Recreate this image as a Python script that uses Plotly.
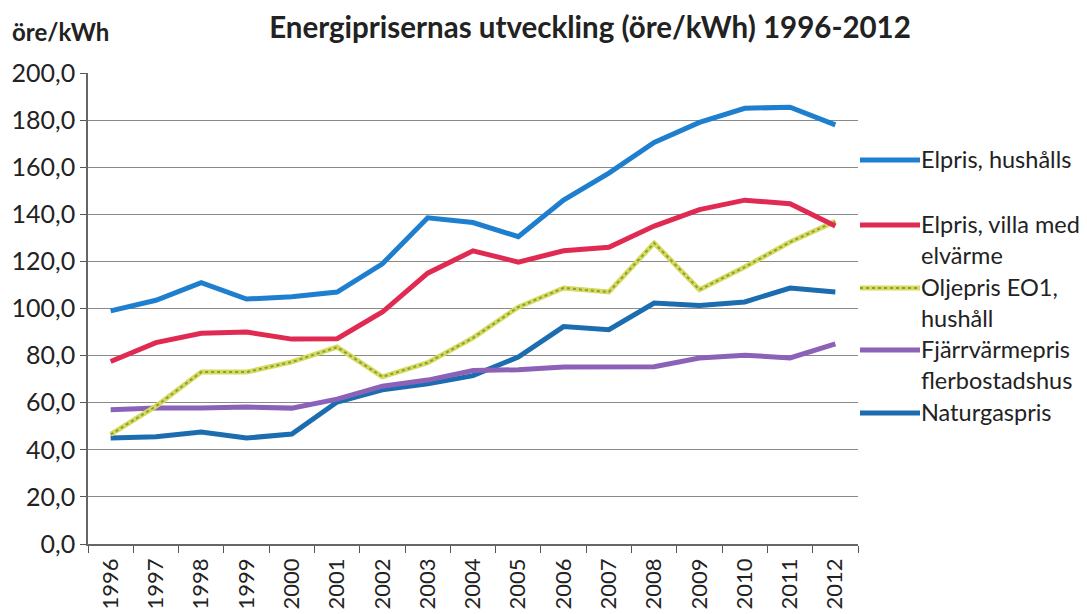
import plotly.graph_objects as go

years = [str(y) for y in range(1996, 2013)]

elpris_hushall = [99, 103.5, 111, 104, 105, 107, 119, 138.5, 136.5, 130.5, 146, 157.5, 170.5, 179, 185, 185.5, 178]
elpris_villa = [77.5, 85.5, 89.5, 90, 87, 87.2, 98.5, 115, 124.5, 119.7, 124.5, 126, 135, 142, 146, 144.5, 135]
oljepris = [46.5, 58.5, 73, 73, 77.3, 83.6, 71, 77, 87.5, 100.6, 108.7, 107, 127.8, 108, 117.6, 128.2, 137]
fjarrvarme = [57, 57.7, 57.7, 58.2, 57.7, 61.5, 67, 69.6, 73.7, 74, 75.2, 75.2, 75.3, 79, 80.2, 79, 85]
naturgas = [45, 45.5, 47.6, 45, 46.7, 60.3, 65.5, 68, 71.5, 79.4, 92.3, 91, 102.3, 101.3, 102.8, 108.7, 107]

series_names = ["Elpris, hushålls", "Elpris, villa med elvärme", "Oljepris EO1, hushåll",
                "Fjärrvärmepris flerbostadshus", "Naturgaspris"]

# legend text as it wraps (and as far as it shows) in the picture
legend_lines = [["Elpris, hushålls"], ["Elpris, villa med", "elvärme"], ["Oljepris EO1,", "hushåll"],
                ["Fjärrvärmepris", "flerbostadshus"], ["Naturgaspris"]]

FONT = "Lato"
TXT = "#222222"

c_blue = "#1f7fcf"
c_red = "#e02a52"
c_yel = "#d4dc5a"
c_olive = "#8c9a48"
c_purple = "#8b62b8"
c_gas = "#1b6db0"

fig = go.Figure()

fig.add_trace(go.Scatter(x=years, y=naturgas, mode="lines", name=series_names[4],
                         line=dict(color=c_gas, width=5)))
fig.add_trace(go.Scatter(x=years, y=fjarrvarme, mode="lines", name=series_names[3],
                         line=dict(color=c_purple, width=5)))
fig.add_trace(go.Scatter(x=years, y=oljepris, mode="lines", name=series_names[2],
                         line=dict(color=c_yel, width=5)))
fig.add_trace(go.Scatter(x=years, y=oljepris, mode="lines", name=series_names[2], showlegend=False,
                         line=dict(color=c_olive, width=2, dash="dot")))
fig.add_trace(go.Scatter(x=years, y=elpris_villa, mode="lines", name=series_names[1],
                         line=dict(color=c_red, width=5)))
fig.add_trace(go.Scatter(x=years, y=elpris_hushall, mode="lines", name=series_names[0],
                         line=dict(color=c_blue, width=5)))

# hand-made legend to the right
L, R, T, B = 88, 229, 73, 70
pw, ph = 1087 - L - R, 614 - T - B

def px_x(px):
    return (px - L) / pw

def px_y(py):
    return (614 - B - py) / ph

swatch_cols = [c_blue, c_red, c_yel, c_purple, c_gas]
swatch_y = [159, 224, 287, 349, 412]
line_gap = 31
shapes = []
annots = []
for col, yy, lines in zip(swatch_cols, swatch_y, legend_lines):
    shapes.append(dict(type="line", xref="paper", yref="paper", x0=px_x(860), x1=px_x(920),
                       y0=px_y(yy + 1), y1=px_y(yy + 1), line=dict(color=col, width=5)))
    if col == c_yel:
        shapes.append(dict(type="line", xref="paper", yref="paper", x0=px_x(860), x1=px_x(920),
                           y0=px_y(yy + 1), y1=px_y(yy + 1), line=dict(color=c_olive, width=2, dash="dot")))
    for k, t in enumerate(lines):
        annots.append(dict(text=t, xref="paper", yref="paper", x=px_x(919), y=px_y(yy + line_gap * k),
                           xanchor="left", yanchor="middle", showarrow=False,
                           font=dict(family=FONT, size=23.5, color=TXT)))

annots.append(dict(text="<b>öre/kWh</b>", xref="paper", yref="paper", x=px_x(10), y=px_y(31),
                   xanchor="left", yanchor="middle", showarrow=False,
                   font=dict(family=FONT, size=24, color=TXT)))

fig.update_layout(
    width=1087, height=614,
    margin=dict(l=L, r=R, t=T, b=B),
    paper_bgcolor="white", plot_bgcolor="white",
    showlegend=False,
    title=dict(text="<b>Energiprisernas utveckling (öre/kWh) 1996-2012</b>",
               x=590 / 1087, xanchor="center", xref="container",
               y=1 - 28 / 614, yanchor="middle", yref="container",
               font=dict(family=FONT, size=29.5, color=TXT)),
    separators=", ",
    font=dict(family=FONT, color=TXT),
    shapes=shapes,
    annotations=annots,
)

fig.update_xaxes(type="category", tickson="boundaries", ticks="outside", ticklen=7,
                 tickcolor="#555555", showline=True, linecolor="#666666", linewidth=1.5,
                 tickangle=-90, tickfont=dict(family=FONT, size=22, color=TXT),
                 ticklabelstandoff=4, showgrid=False, range=[-0.5, 16.5], automargin=False)
fig.update_yaxes(range=[0, 200], dtick=20, tickformat=".1f", ticks="outside", ticklen=6,
                 tickcolor="#555555", showline=True, linecolor="#666666", linewidth=1.5,
                 gridcolor="#8a8a8a", gridwidth=1.3, zeroline=False, automargin=False,
                 tickfont=dict(family=FONT, size=25, color=TXT))

# page has a default 8px body margin; drop it so the chart sits at the top-left corner
fig.write_html("out.html", config={"displayModeBar": False},
               post_script="document.body.style.margin='0';")
